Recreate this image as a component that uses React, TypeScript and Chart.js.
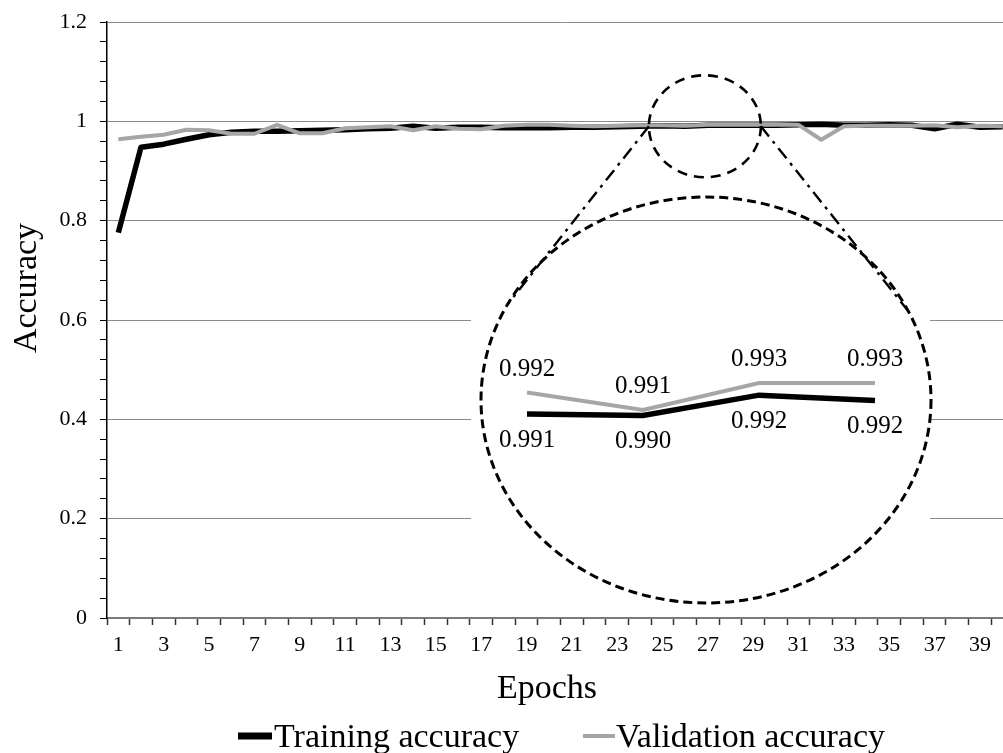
import React, { useEffect, useRef } from 'react';
import { Chart, registerables } from 'chart.js';

Chart.register(...registerables);

// ---------- data ----------
const epochs = [
  '1', '2', '3', '4', '5', '6', '7', '8', '9', '10',
  '11', '12', '13', '14', '15', '16', '17', '18', '19', '20',
  '21', '22', '23', '24', '25', '26', '27', '28', '29', '30',
  '31', '32', '33', '34', '35', '36', '37', '38', '39', '40',
];

const trainingAccuracy = [
  0.776, 0.948, 0.954, 0.964, 0.973, 0.978, 0.980, 0.980, 0.981, 0.982,
  0.983, 0.985, 0.986, 0.990, 0.986, 0.988, 0.988, 0.987, 0.987, 0.987,
  0.988, 0.988, 0.989, 0.990, 0.991, 0.990, 0.992, 0.992, 0.992, 0.992,
  0.993, 0.994, 0.992, 0.992, 0.993, 0.992, 0.985, 0.994, 0.988, 0.989,
];

const validationAccuracy = [
  0.964, 0.969, 0.973, 0.983, 0.982, 0.975, 0.975, 0.993, 0.976, 0.976,
  0.986, 0.988, 0.990, 0.982, 0.990, 0.985, 0.984, 0.991, 0.993, 0.993,
  0.991, 0.990, 0.991, 0.992, 0.992, 0.991, 0.993, 0.993, 0.993, 0.993,
  0.993, 0.963, 0.990, 0.991, 0.991, 0.991, 0.992, 0.988, 0.991, 0.990,
];

const seriesNames = ['Training accuracy', 'Validation accuracy'];
const seriesColors = ['#000000', '#a6a6a6'];

const yMin = 0;
const yMax = 1.2;
const yMajorStep = 0.2;
const yMinorStep = 0.04;

// inset (zoomed view)
const insetEpochs = ['25', '26', '27', '28'];
const insetTraining = [0.9907, 0.9906, 0.9921, 0.9917];
const insetValidation = [0.9923, 0.9910, 0.9930, 0.9930];
const insetTrainingText = ['0.991', '0.990', '0.992', '0.992'];
const insetValidationText = ['0.992', '0.991', '0.993', '0.993'];
const insetYMin = 0.989;
const insetYMax = 0.995;

// zoom marker location (in data terms)
const zoomEpochIndex = 26;
const zoomValue = 0.99;

const FONT = "'Liberation Serif', 'Times New Roman', serif";

// geometry of page pieces
const INSET_LEFT = 465;
const INSET_TOP = 190;
const INSET_W = 475;
const INSET_H = 420;
const BIG = { cx: 706, cy: 400, rx: 225, ry: 203 };

const isMajor = (v: number) => Math.abs(v / yMajorStep - Math.round(v / yMajorStep)) < 1e-6;

const mainDecor = {
  id: 'mainDecor',
  afterDatasetsDraw(chart: any) {
    const ctx = chart.ctx as CanvasRenderingContext2D;
    const xs = chart.scales.x;
    const ys = chart.scales.y;
    const cx = xs.getPixelForValue(zoomEpochIndex) - 3;
    const cy = ys.getPixelForValue(zoomValue);
    const rx = 56;
    const ry = 51;
    ctx.save();
    ctx.strokeStyle = '#000';
    ctx.lineWidth = 2.6;
    ctx.setLineDash([10, 7]);
    ctx.beginPath();
    ctx.ellipse(cx, cy, rx, ry, 0, 0, Math.PI * 2);
    ctx.stroke();
    // connectors (dash-dot)
    ctx.setLineDash([13, 6, 3, 6]);
    ctx.lineWidth = 2.4;
    const pt = (deg: number) => {
      const a = (deg * Math.PI) / 180;
      return [BIG.cx + BIG.rx * Math.cos(a), BIG.cy + BIG.ry * Math.sin(a)];
    };
    const l = pt(-152);
    const r = pt(-26);
    ctx.beginPath();
    ctx.moveTo(cx - rx, cy);
    ctx.lineTo(l[0], l[1]);
    ctx.moveTo(cx + rx, cy);
    ctx.lineTo(r[0], r[1]);
    ctx.stroke();
    ctx.restore();
  },
  afterDraw(chart: any) {
    const ctx = chart.ctx as CanvasRenderingContext2D;
    ctx.save();
    ctx.fillStyle = '#000';
    ctx.font = `34px ${FONT}`;
    // x title
    ctx.textAlign = 'center';
    ctx.textBaseline = 'alphabetic';
    ctx.fillText('Epochs', 547, 698);
    // y title
    ctx.save();
    ctx.translate(36, 288);
    ctx.rotate(-Math.PI / 2);
    ctx.fillText('Accuracy', 0, 0);
    ctx.restore();
    // legend
    const ds = chart.data.datasets;
    const items = [
      { x0: 238, x1: 272, tx: 274, w: 7 },
      { x0: 583, x1: 615, tx: 616, w: 4 },
    ];
    ctx.textAlign = 'left';
    items.forEach((it, i) => {
      ctx.strokeStyle = ds[i].borderColor;
      ctx.lineWidth = it.w;
      ctx.lineCap = 'butt';
      ctx.beginPath();
      ctx.moveTo(it.x0, 736);
      ctx.lineTo(it.x1, 736);
      ctx.stroke();
      ctx.fillStyle = '#000';
      ctx.fillText(ds[i].label, it.tx, 747);
    });
    ctx.restore();
  },
};

const insetDecor = {
  id: 'insetDecor',
  beforeDraw(chart: any) {
    const ctx = chart.ctx as CanvasRenderingContext2D;
    ctx.save();
    ctx.fillStyle = '#ffffff';
    ctx.fillRect(471 - INSET_LEFT, 314 - INSET_TOP, 930 - 471, 606 - 314);
    ctx.restore();
  },
  afterDatasetsDraw(chart: any) {
    const ctx = chart.ctx as CanvasRenderingContext2D;
    ctx.save();
    ctx.fillStyle = '#000';
    ctx.font = `25px ${FONT}`;
    ctx.textAlign = 'center';
    ctx.textBaseline = 'middle';
    const texts = [insetTrainingText, insetValidationText];
    const offsets = [26, -23.5];
    chart.data.datasets.forEach((_: any, di: number) => {
      const meta = chart.getDatasetMeta(di);
      meta.data.forEach((el: any, i: number) => {
        ctx.fillText(texts[di][i], el.x, el.y + offsets[di]);
      });
    });
    // big dashed ellipse
    ctx.strokeStyle = '#000';
    ctx.lineWidth = 3;
    ctx.setLineDash([9, 5]);
    ctx.beginPath();
    ctx.ellipse(BIG.cx - INSET_LEFT, BIG.cy - INSET_TOP, BIG.rx, BIG.ry, 0, 0, Math.PI * 2);
    ctx.stroke();
    ctx.restore();
  },
};

export default function App() {
  const mainRef = useRef<HTMLCanvasElement>(null);
  const insetRef = useRef<HTMLCanvasElement>(null);

  useEffect(() => {
    const main = new Chart(mainRef.current as HTMLCanvasElement, {
      type: 'line',
      data: {
        labels: epochs,
        datasets: [
          {
            label: seriesNames[0],
            data: trainingAccuracy,
            borderColor: seriesColors[0],
            backgroundColor: seriesColors[0],
            borderWidth: 5.5,
            pointRadius: 0,
            borderJoinStyle: 'round',
            tension: 0,
            order: 1,
          },
          {
            label: seriesNames[1],
            data: validationAccuracy,
            borderColor: seriesColors[1],
            backgroundColor: seriesColors[1],
            borderWidth: 4,
            pointRadius: 0,
            borderJoinStyle: 'round',
            tension: 0,
            order: 0,
          },
        ],
      },
      options: {
        responsive: false,
        animation: false,
        layout: { padding: { top: 22, left: 0, right: 0, bottom: 0 } },
        plugins: { legend: { display: false }, tooltip: { enabled: false } },
        scales: {
          x: {
            type: 'category',
            offset: true,
            grid: {
              offset: true,
              drawOnChartArea: false,
              drawTicks: true,
              tickLength: 7,
              tickColor: '#333',
              tickWidth: 1.5,
            },
            border: { color: '#7a7a7a', width: 2 },
            ticks: {
              autoSkip: false,
              maxRotation: 0,
              minRotation: 0,
              padding: 7,
              color: '#000',
              font: { family: FONT, size: 22 },
              callback: (_v: any, i: number) => (i % 2 === 0 ? epochs[i] : ''),
            },
            afterFit: (s: any) => {
              s.height = 135;
              s.paddingLeft = 0;
              s.paddingRight = 0;
            },
          },
          y: {
            min: yMin,
            max: yMax,
            ticks: {
              stepSize: yMinorStep,
              autoSkip: false,
              padding: 13,
              color: '#000',
              font: { family: FONT, size: 22 },
              callback: (v: any) => (isMajor(Number(v)) ? String(Math.round(Number(v) * 10) / 10) : ''),
            },
            grid: {
              color: (c: any) => (c.tick && isMajor(c.tick.value) ? '#8c8c8c' : 'rgba(0,0,0,0)'),
              tickColor: '#000',
              tickLength: 7,
              lineWidth: 1,
            },
            border: { color: '#000', width: 1.5 },
            afterFit: (s: any) => {
              s.width = 107;
              s.paddingTop = 0;
              s.paddingBottom = 0;
            },
          },
        },
      },
      plugins: [mainDecor],
    } as any);

    const inset = new Chart(insetRef.current as HTMLCanvasElement, {
      type: 'line',
      data: {
        labels: insetEpochs,
        datasets: [
          {
            label: seriesNames[0],
            data: insetTraining,
            borderColor: seriesColors[0],
            borderWidth: 5.5,
            pointRadius: 0,
            tension: 0,
            order: 1,
          },
          {
            label: seriesNames[1],
            data: insetValidation,
            borderColor: seriesColors[1],
            borderWidth: 4,
            pointRadius: 0,
            tension: 0,
            order: 0,
          },
        ],
      },
      options: {
        responsive: false,
        animation: false,
        layout: { padding: { left: 62, right: 65, top: 166, bottom: 173 } },
        plugins: { legend: { display: false }, tooltip: { enabled: false } },
        scales: {
          x: { display: false, offset: false },
          y: { display: false, min: insetYMin, max: insetYMax },
        },
      },
      plugins: [insetDecor],
    } as any);

    return () => {
      main.destroy();
      inset.destroy();
    };
  }, []);

  return (
    <div
      style={{
        position: 'absolute',
        left: 0,
        top: 0,
        width: 1003,
        height: 753,
        overflow: 'hidden',
        background: '#ffffff',
      }}
    >
      <canvas
        ref={mainRef}
        width={1014}
        height={753}
        style={{ position: 'absolute', left: 0, top: 0, width: 1014, height: 753 }}
      />
      <canvas
        ref={insetRef}
        width={INSET_W}
        height={INSET_H}
        style={{ position: 'absolute', left: INSET_LEFT, top: INSET_TOP, width: INSET_W, height: INSET_H }}
      />
    </div>
  );
}
